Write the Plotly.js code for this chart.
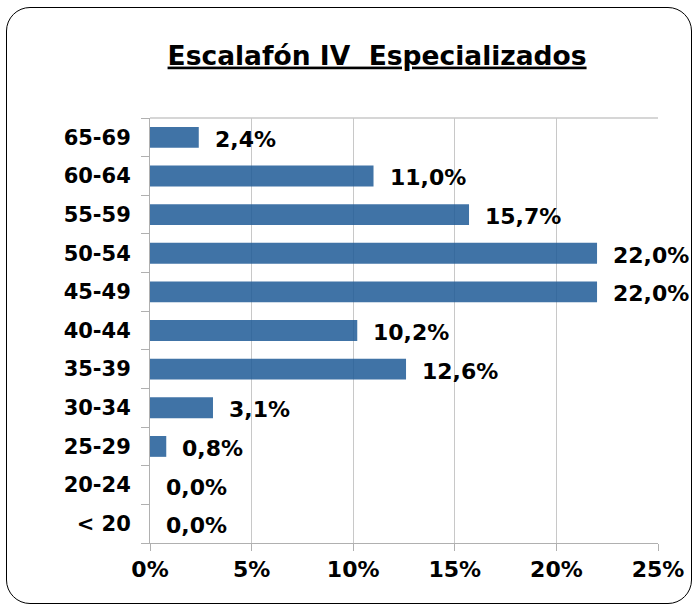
<!DOCTYPE html>
<html>
<head>
<meta charset="utf-8">
<script src="https://cdn.plot.ly/plotly-3.0.1.min.js"></script>
<style>
  html, body { margin: 0; padding: 0; background: #fff; }
  #wrap { position: relative; width: 697px; height: 608px; }
  #chart { position: absolute; left: 0; top: 0; width: 697px; height: 608px; }
  #frame { position: absolute; left: 6px; top: 7px; width: 684px; height: 595px;
           border: 1.5px solid #000; border-radius: 24px; pointer-events: none; }
</style>
</head>
<body>
<div id="wrap">
  <div id="chart"></div>
  <div id="frame"></div>
</div>
<script>
const categories = ["< 20", "20-24", "25-29", "30-34", "35-39", "40-44", "45-49", "50-54", "55-59", "60-64", "65-69"];
const values = [0.0, 0.0, 0.8, 3.1, 12.6, 10.2, 22.0, 22.0, 15.7, 11.0, 2.4];
const xTickValues = [0, 0.05, 0.10, 0.15, 0.20, 0.25];
const xTickLabels = ["0%", "5%", "10%", "15%", "20%", "25%"];

const FONT = "Verdana, 'DejaVu Sans', sans-serif";
const fmt = v => v.toFixed(1).replace('.', ',') + '%';

const trace = {
  type: 'bar',
  orientation: 'h',
  y: categories,
  x: values.map(v => v / 100),
  marker: { color: 'rgb(30,90,150)', opacity: 0.85, line: { width: 0 } },
  hoverinfo: 'none'
};

const annotations = categories.map((c, i) => ({
  x: values[i] / 100, y: c, xref: 'x', yref: 'y',
  text: '<b>' + fmt(values[i]) + '</b>',
  showarrow: false, xanchor: 'left', yanchor: 'middle', xshift: 14, yshift: -2,
  font: { family: FONT, size: 22, color: '#000' }
}));

const layout = {
  width: 697, height: 608,
  margin: { l: 150, r: 39, t: 118, b: 65 },
  paper_bgcolor: '#fff', plot_bgcolor: '#fff',
  showlegend: false,
  bargap: 0.46,
  title: {
    text: '<b><u>Escalafón IV&nbsp;&nbsp;Especializados</u></b>',
    x: 0.541, xanchor: 'center', y: 0.909, yanchor: 'middle',
    font: { family: FONT, size: 26.5, color: '#000' }
  },
  xaxis: {
    range: [0, 0.25], fixedrange: true,
    tickvals: xTickValues, ticktext: xTickLabels.map(t => '<b>' + t + '</b>'),
    showgrid: true, gridcolor: '#c8c8c8', gridwidth: 1,
    showline: true, linecolor: '#b0b0b0', linewidth: 1,
    ticks: 'outside', ticklen: 7, tickcolor: '#b0b0b0',
    zeroline: false,
    tickfont: { family: FONT, size: 22, color: '#000' }
  },
  yaxis: {
    type: 'category', fixedrange: true,
    tickvals: categories, ticktext: categories.map(t => '<b>' + t.replace('<', '&lt;') + '</b>'),
    showgrid: false, showline: true, linecolor: '#b0b0b0', linewidth: 1,
    ticks: 'outside', tickson: 'boundaries', ticklen: 8, tickcolor: '#b0b0b0',
    zeroline: false, ticklabelstandoff: 14,
    tickfont: { family: FONT, size: 21, color: '#000' }
  },
  shapes: [{
    type: 'line', xref: 'paper', yref: 'paper', x0: 0, x1: 1, y0: 1, y1: 1,
    line: { color: '#c8c8c8', width: 1.5 }
  }],
  annotations: annotations
};

Plotly.newPlot('chart', [trace], layout, { displayModeBar: false, staticPlot: true });
</script>
</body>
</html>
